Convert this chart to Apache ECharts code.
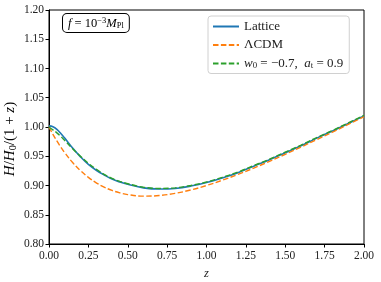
<!DOCTYPE html>
<html>
<head>
<meta charset="utf-8">
<script src="https://cdn.jsdelivr.net/npm/echarts@6/dist/echarts.min.js"></script>
<style>html,body{margin:0;padding:0;background:#fff}#c{width:381px;height:282px}</style>
</head>
<body>
<div id="c"></div>
<script>
var zVals = [0,0.025,0.05,0.075,0.1,0.15,0.2,0.25,0.3,0.35,0.4,0.45,0.5,0.6,0.7,0.8,0.9,1.0,1.1,1.2,1.3,1.4,1.5,1.6,1.7,1.8,1.9,2.0];
var lattice = [1.002,1.0005,0.996,0.989,0.981,0.964,0.949,0.936,0.926,0.918,0.911,0.906,0.902,0.896,0.894,0.895,0.899,0.905,0.913,0.922,0.933,0.944,0.956,0.968,0.981,0.993,1.006,1.019];
var lcdm = [1.000,0.9875,0.9761,0.9656,0.9560,0.9392,0.9253,0.9139,0.9046,0.8973,0.8916,0.8874,0.8844,0.8818,0.8828,0.8865,0.8924,0.9000,0.9090,0.9190,0.9298,0.9413,0.9533,0.9657,0.9784,0.9913,1.0044,1.0176];
var wModel = [1.000,0.995,0.990,0.984,0.977,0.963,0.950,0.938,0.928,0.919,0.912,0.907,0.903,0.897,0.895,0.896,0.900,0.906,0.914,0.923,0.934,0.945,0.957,0.969,0.982,0.994,1.007,1.020];
var xTicks = [0,0.25,0.5,0.75,1.0,1.25,1.5,1.75,2.0];
var yTicks = [0.80,0.85,0.90,0.95,1.00,1.05,1.10,1.15,1.20];
var names = ['Lattice','ΛCDM','w0'];

function pairs(arr){ return zVals.map(function(z,i){return [z,arr[i]];}); }
var FONT = 'Liberation Serif';
function mkRich(fs){
  var sub = Math.round(fs*0.68*10)/10;
  return {
    i:{fontFamily:FONT,fontStyle:'italic',fontSize:fs,color:'#222'},
    n:{fontFamily:FONT,fontSize:fs,color:'#222'},
    s:{fontFamily:FONT,fontSize:sub,color:'#222',padding:[Math.round(fs*0.4),0,0,0]},
    sup:{fontFamily:FONT,fontSize:sub,color:'#222',padding:[0,0,Math.round(fs*0.5),0]}
  };
}
var chart = echarts.init(document.getElementById('c'), null, {renderer:'canvas'});
chart.setOption({
  animation:false,
  grid:{left:49,right:17,top:10,bottom:38,show:true,borderColor:'#000',borderWidth:1,backgroundColor:'transparent',outerBoundsMode:'none',containLabel:false},
  xAxis:{type:'value',min:0,max:2,interval:0.25,
    name:'{i|z}',nameLocation:'middle',nameGap:23,nameTextStyle:{rich:mkRich(12.5)},
    axisLine:{lineStyle:{color:'#000',width:1}},
    axisTick:{inside:false,length:3.5,lineStyle:{color:'#000'}},
    axisLabel:{fontFamily:FONT,fontSize:11.5,color:'#222',margin:6,formatter:function(v){return v.toFixed(2);}},
    splitLine:{show:false}},
  yAxis:{type:'value',min:0.8,max:1.2,interval:0.05,
    axisLine:{show:true,lineStyle:{color:'#000',width:1}},
    axisTick:{show:true,inside:false,length:3.5,lineStyle:{color:'#000'}},
    axisLabel:{fontFamily:FONT,fontSize:11.5,color:'#222',margin:5,formatter:function(v){return v.toFixed(2);}},
    splitLine:{show:false}},
  legend:{orient:'vertical',left:208,top:16,itemWidth:26,itemHeight:12,itemGap:5.5,
    backgroundColor:'#fff',borderColor:'#d0d0d0',borderWidth:1,borderRadius:3,padding:[4,6,3,4],
    itemStyle:{opacity:0},
    data:names,
    textStyle:{fontFamily:FONT,fontSize:13,color:'#222',rich:mkRich(13)},
    formatter:function(n){
      if(n==='w0') return '{i|w}{s|0}{n| = −0.7,  }{i|a}{s|t}{n| = 0.9}';
      return '{n|'+n+'}';
    }},
  graphic:[
    {type:'text',left:62,top:13,style:{
      text:'{i|f}{n| = 10}{sup|−3}{i|M}{s|Pl}',rich:mkRich(12.5),
      borderColor:'#000',borderWidth:1,borderRadius:4,padding:[2,5,1,5],backgroundColor:'#fff'}},
    {type:'text',x:10,y:139,rotation:Math.PI/2,style:{
      text:'{i|H}{n|/}{i|H}{s|0}{n|/(1 + }{i|z}{n|)}',rich:mkRich(15),
      align:'center',verticalAlign:'middle'}}
  ],
  series:[
    {name:'Lattice',type:'line',data:pairs(lattice),smooth:0.4,showSymbol:false,symbol:'none',z:3,
      lineStyle:{color:'#1f77b4',width:1.6},itemStyle:{color:'#1f77b4'}},
    {name:'ΛCDM',type:'line',data:pairs(lcdm),smooth:0.4,showSymbol:false,symbol:'none',z:4,
      lineStyle:{color:'#ff7f0e',width:1.4,type:[5.5,2.4]},itemStyle:{color:'#ff7f0e'}},
    {name:'w0',type:'line',data:pairs(wModel),smooth:0.4,showSymbol:false,symbol:'none',z:5,
      lineStyle:{color:'#2ca02c',width:1.4,type:[5.5,2.4]},itemStyle:{color:'#2ca02c'}}
  ]
});
</script>
</body>
</html>
